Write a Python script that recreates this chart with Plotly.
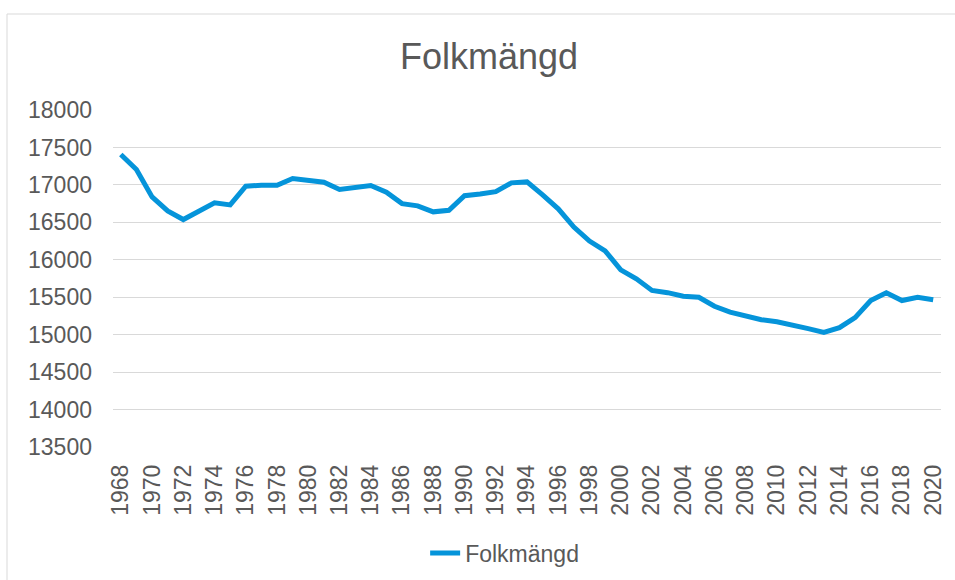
import plotly.graph_objects as go

years = list(range(1968, 2021))
folkmangd = [
    17406, 17206, 16840, 16652, 16537, 16649, 16760, 16733, 16983, 16996,
    16996, 17086, 17067, 17036, 16938, 16969, 16992, 16902, 16750, 16720,
    16640, 16660, 16855, 16878, 16910, 17027, 17040, 16867, 16680, 16437,
    16250, 16120, 15866, 15746, 15590, 15561, 15513, 15500, 15380, 15300,
    15256, 15200, 15173, 15133, 15080, 15030, 15093, 15227, 15456, 15559,
    15456, 15500, 15465,
]
tick_years = list(range(1968, 2021, 2))
y_ticks = list(range(13500, 18001, 500))

W, H = 955, 580
L, R, T, B = 113, 14, 110, 133
pw, ph = W - L - R, H - T - B

txt = "#595959"
font = "Liberation Sans, Arial, sans-serif"

fig = go.Figure()
fig.add_trace(go.Scatter(
    x=years, y=folkmangd, mode="lines", name="Folkmängd",
    line=dict(color="#0594DA", width=5),
))

fig.update_layout(
    width=W, height=H,
    margin=dict(l=L, r=R, t=T, b=B, autoexpand=False),
    paper_bgcolor="white", plot_bgcolor="white",
    font=dict(family=font, color=txt, size=23),
    title=dict(text="Folkmängd", x=489 / W, xanchor="center",
               y=(H - 56) / H, yanchor="middle", yref="container",
               font=dict(size=36, color=txt, family=font)),
    showlegend=True,
    legend=dict(orientation="h", x=0.473, xanchor="center",
                yref="container", y=(H - 553) / H, yanchor="middle",
                font=dict(size=23, color=txt)),
    xaxis=dict(range=[1967.5, 2020.5], tickmode="array", tickvals=tick_years,
               ticktext=[str(y) for y in tick_years], tickangle=-90,
               showgrid=False, zeroline=False, showline=False,
               ticks="", ticklabelstandoff=12, automargin=False,
               tickfont=dict(size=23, color=txt)),
    yaxis=dict(range=[13500, 18000], tickmode="array", tickvals=y_ticks,
               showgrid=True, gridcolor="#D9D9D9", gridwidth=1.3,
               zeroline=False, showline=False, ticks="", automargin=False,
               ticklabelstandoff=20, tickformat="d",
               tickfont=dict(size=23, color=txt)),
    shapes=[dict(type="rect", xref="paper", yref="paper",
                 x0=(7 - L) / pw, x1=1.2, y0=-1.0, y1=1 + (T - 14) / ph,
                 line=dict(color="#D9D9D9", width=1), fillcolor="rgba(0,0,0,0)",
                 layer="below")],
)

fig.write_html("out.html", config={"displayModeBar": False},
               post_script="document.body.style.margin='0px';document.body.style.overflow='hidden';")
